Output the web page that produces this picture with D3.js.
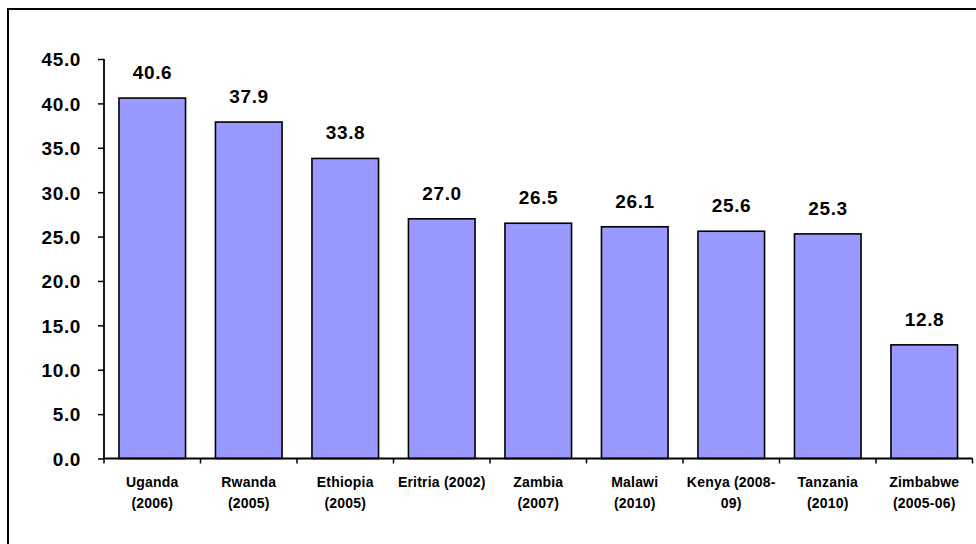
<!DOCTYPE html>
<html>
<head>
<meta charset="utf-8">
<script src="https://cdn.jsdelivr.net/npm/d3@7"></script>
<style>
  html, body { margin: 0; padding: 0; background: #fff; }
  svg { display: block; }
  text { font-family: "Liberation Sans", Arial, sans-serif; font-weight: bold; fill: #000; }
</style>
</head>
<body>
<svg id="chart" width="976" height="544"></svg>
<script>
const categories = [
  ["Uganda", "(2006)"],
  ["Rwanda", "(2005)"],
  ["Ethiopia", "(2005)"],
  ["Eritria (2002)"],
  ["Zambia", "(2007)"],
  ["Malawi", "(2010)"],
  ["Kenya (2008-", "09)"],
  ["Tanzania", "(2010)"],
  ["Zimbabwe", "(2005-06)"]
];
const values = [40.6, 37.9, 33.8, 27.0, 26.5, 26.1, 25.6, 25.3, 12.8];
const yTicks = [0, 5, 10, 15, 20, 25, 30, 35, 40, 45];

const svg = d3.select("#chart");

// outer frame (extends beyond right/bottom like the reference crop)
svg.append("rect")
  .attr("x", 8).attr("y", 9).attr("width", 1200).attr("height", 1200)
  .attr("fill", "none").attr("stroke", "#000").attr("stroke-width", 2);

const x = d3.scaleBand()
  .domain(d3.range(categories.length))
  .range([104, 972.5])
  .paddingInner(0.31)
  .paddingOuter(0.155);

const y = d3.scaleLinear().domain([0, 45]).range([458.5, 59]);

// bars
svg.append("g").selectAll("rect")
  .data(values)
  .join("rect")
  .attr("x", (d, i) => x(i))
  .attr("y", d => y(d))
  .attr("width", x.bandwidth())
  .attr("height", d => y(0) - y(d))
  .attr("fill", "#9999FF")
  .attr("stroke", "#000")
  .attr("stroke-width", 1.6);

// value labels
svg.append("g").selectAll("text")
  .data(values)
  .join("text")
  .attr("x", (d, i) => x(i) + x.bandwidth() / 2 + 0.3)
  .attr("y", d => y(d) - 19)
  .attr("text-anchor", "middle")
  .style("font-size", "19px")
  .style("letter-spacing", "0.6px")
  .text(d => d.toFixed(1));

// y axis
const yAxis = svg.append("g")
  .attr("transform", "translate(104,0)")
  .call(d3.axisLeft(y).tickValues(yTicks).tickFormat(d3.format(".1f")).tickSize(6).tickPadding(17));
yAxis.select(".domain").attr("stroke", "#000").attr("stroke-width", 1.8).attr("d", `M0,${y(45)}V${y(0)}`);
yAxis.selectAll(".tick line").attr("stroke", "#000").attr("stroke-width", 1.5);
yAxis.selectAll(".tick text")
  .style("font-size", "19px")
  .style("letter-spacing", "0.6px")
  .attr("font-family", null)
  .attr("dy", "0.36em");

// x axis with tick marks at band boundaries
const step = x.step();
const boundaries = d3.range(categories.length + 1).map(i => 104 + i * step);
const xg = svg.append("g");
xg.append("line")
  .attr("x1", 104).attr("x2", boundaries[boundaries.length - 1])
  .attr("y1", y(0)).attr("y2", y(0))
  .attr("stroke", "#000").attr("stroke-width", 1.8);
xg.selectAll("line.tk")
  .data(boundaries)
  .join("line")
  .attr("class", "tk")
  .attr("x1", d => d).attr("x2", d => d)
  .attr("y1", y(0)).attr("y2", y(0) + 5)
  .attr("stroke", "#000").attr("stroke-width", 1.5);

// category labels
const lab = svg.append("g").selectAll("text")
  .data(categories)
  .join("text")
  .attr("text-anchor", "middle")
  .style("font-size", "14px")
  .style("letter-spacing", "0.2px");
lab.each(function(lines, i) {
  const t = d3.select(this);
  lines.forEach((ln, j) => {
    t.append("tspan")
      .attr("x", x(i) + x.bandwidth() / 2)
      .attr("y", 486.5 + j * 21.5)
      .text(ln);
  });
});
</script>
</body>
</html>
